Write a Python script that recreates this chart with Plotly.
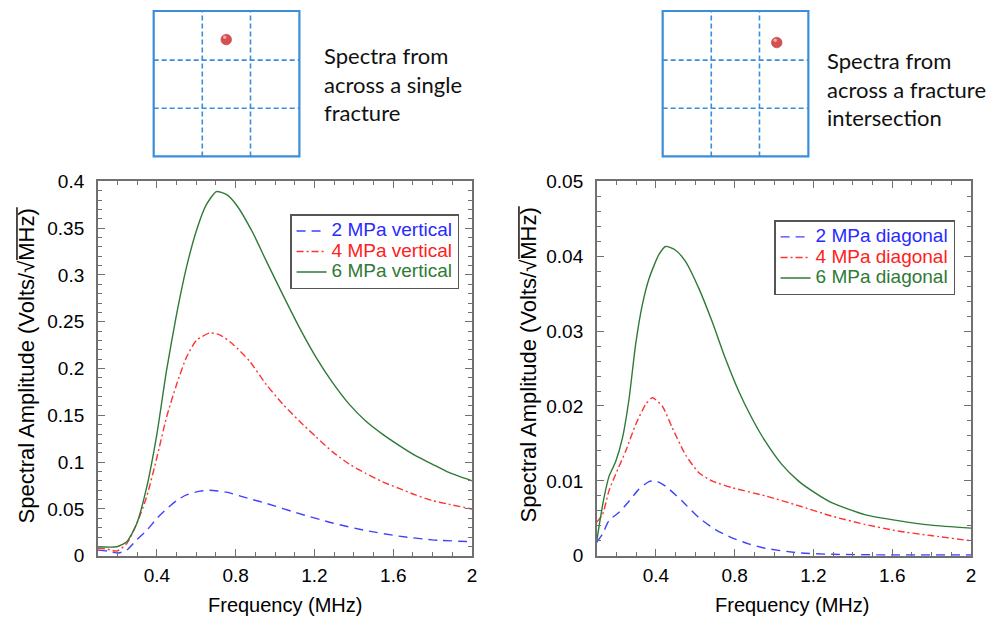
import plotly.graph_objects as go

# ---------------- data ----------------
freq_v_green = [0.10, 0.196, 0.247, 0.297, 0.348, 0.40, 0.449, 0.50, 0.55, 0.60, 0.651, 0.702, 0.752, 0.803, 0.887, 0.955, 1.039, 1.123, 1.208, 1.292, 1.376, 1.46, 1.545, 1.629, 1.713, 1.797, 1.882, 2.0]
amp_v6 = [0.0096, 0.0096, 0.015, 0.034, 0.073, 0.130, 0.198, 0.258, 0.308, 0.347, 0.375, 0.389, 0.386, 0.375, 0.345, 0.315, 0.279, 0.244, 0.212, 0.185, 0.162, 0.144, 0.130, 0.118, 0.107, 0.098, 0.089, 0.080]

freq_v_red = [0.10, 0.15, 0.196, 0.247, 0.297, 0.348, 0.40, 0.449, 0.50, 0.55, 0.60, 0.668, 0.719, 0.786, 0.87, 0.955, 1.039, 1.123, 1.208, 1.292, 1.376, 1.46, 1.545, 1.629, 1.713, 1.797, 1.882, 2.0]
amp_v4 = [0.008, 0.007, 0.005, 0.013, 0.034, 0.063, 0.105, 0.148, 0.183, 0.212, 0.230, 0.238, 0.236, 0.226, 0.208, 0.183, 0.162, 0.144, 0.127, 0.111, 0.098, 0.088, 0.079, 0.072, 0.065, 0.059, 0.055, 0.050]

freq_v_blue = [0.10, 0.15, 0.205, 0.247, 0.297, 0.348, 0.40, 0.449, 0.50, 0.55, 0.618, 0.668, 0.752, 0.87, 0.955, 1.123, 1.292, 1.46, 1.629, 1.797, 2.0]
amp_v2 = [0.006, 0.005, 0.003, 0.006, 0.017, 0.027, 0.040, 0.050, 0.059, 0.065, 0.069, 0.070, 0.068, 0.061, 0.056, 0.045, 0.035, 0.027, 0.021, 0.017, 0.015]

freq_d_green = [0.10, 0.113, 0.137, 0.162, 0.196, 0.23, 0.264, 0.297, 0.331, 0.365, 0.415, 0.449, 0.50, 0.55, 0.618, 0.685, 0.752, 0.82, 0.887, 0.955, 1.039, 1.123, 1.208, 1.292, 1.46, 1.629, 1.797, 2.0]
amp_d6 = [0.0020, 0.0042, 0.0078, 0.0106, 0.0126, 0.0157, 0.0210, 0.0282, 0.0335, 0.0370, 0.0402, 0.0413, 0.0408, 0.0393, 0.0357, 0.0313, 0.0264, 0.0220, 0.0184, 0.0153, 0.0122, 0.0100, 0.0084, 0.0071, 0.0055, 0.0047, 0.0041, 0.0037]

freq_d_red = [0.10, 0.129, 0.162, 0.196, 0.247, 0.297, 0.348, 0.382, 0.432, 0.483, 0.55, 0.618, 0.685, 0.786, 0.955, 1.123, 1.292, 1.46, 1.629, 1.797, 2.0]
amp_d4 = [0.0045, 0.0055, 0.0087, 0.0109, 0.0140, 0.0175, 0.0202, 0.0211, 0.0200, 0.0171, 0.0135, 0.0111, 0.0100, 0.0091, 0.0080, 0.0067, 0.0053, 0.0042, 0.0033, 0.0027, 0.0020]

freq_d_blue = [0.10, 0.129, 0.162, 0.213, 0.264, 0.314, 0.365, 0.398, 0.449, 0.533, 0.618, 0.702, 0.786, 0.87, 0.955, 1.123, 1.292, 1.629, 2.0]
amp_d2 = [0.0018, 0.0029, 0.0047, 0.0058, 0.0073, 0.0089, 0.0099, 0.0100, 0.0093, 0.0073, 0.0051, 0.0035, 0.0024, 0.0016, 0.0010, 0.0004, 0.0002, 0.0001, 0.0001]

x_tickvals = [0.4, 0.8, 1.2, 1.6, 2.0]
x_ticktext = ["0.4", "0.8", "1.2", "1.6", "2"]
y1_tickvals = [0, 0.05, 0.1, 0.15, 0.2, 0.25, 0.3, 0.35, 0.4]
y1_ticktext = ["0", "0.05", "0.1", "0.15", "0.2", "0.25", "0.3", "0.35", "0.4"]
y2_tickvals = [0, 0.01, 0.02, 0.03, 0.04, 0.05]
y2_ticktext = ["0", "0.01", "0.02", "0.03", "0.04", "0.05"]

names_v = ["2 MPa vertical", "4 MPa vertical", "6 MPa vertical"]
names_d = ["2 MPa diagonal", "4 MPa diagonal", "6 MPa diagonal"]

BLUE, RED, GREEN = "#4040ff", "#ff3333", "#2f7a36"
BLUE_T, RED_T, GREEN_T = "#2a2aff", "#ff2020", "#2e7a36"

# pixel -> paper helpers (compensating the page offset seen in the renderer)
def X(p):
    return p / 997.0

def Y(p):
    return 1 - ((p - 8) / 0.97) / 619.0

fig = go.Figure()

def add(x, y, name, color, tcolor, dash, xa, ya, leg):
    fig.add_trace(go.Scatter(
        x=x, y=y, mode="lines", line=dict(color=color, width=1.4, dash=dash, shape="spline", smoothing=0.6),
        name=f"<span style='color:{tcolor};font-size:19px'>{name}</span>", xaxis=xa, yaxis=ya, legend=leg))

add(freq_v_blue, amp_v2, names_v[0], BLUE, BLUE_T, "9px,6px", "x", "y", "legend")
add(freq_v_red, amp_v4, names_v[1], RED, RED_T, "7px,3px,2px,3px", "x", "y", "legend")
add(freq_v_green, amp_v6, names_v[2], GREEN, GREEN_T, "solid", "x", "y", "legend")
add(freq_d_blue, amp_d2, names_d[0], BLUE, BLUE_T, "9px,6px", "x2", "y2", "legend2")
add(freq_d_red, amp_d4, names_d[1], RED, RED_T, "7px,3px,2px,3px", "x2", "y2", "legend2")
add(freq_d_green, amp_d6, names_d[2], GREEN, GREEN_T, "solid", "x2", "y2", "legend2")

AX = "#707070"
tickfont = dict(family="Liberation Sans, Arial, sans-serif", size=19, color="#000")

def xaxis(domain, anchor):
    return dict(domain=domain, anchor=anchor, range=[0.1, 2.0], tickmode="array", tickvals=x_tickvals,
                ticktext=x_ticktext, ticks="inside", ticklen=7, tickwidth=1.3, tickcolor=AX,
                showline=True, linecolor=AX, linewidth=1.5, mirror="ticks", showgrid=False, zeroline=False,
                tickfont=tickfont, ticklabelstandoff=2,
                minor=dict(tickmode="linear", tick0=0, dtick=0.1, ticks="inside", ticklen=4, tickcolor=AX, tickwidth=1.1, showgrid=False))

def yaxis(domain, anchor, rng, vals, text, mdt):
    return dict(domain=domain, anchor=anchor, range=rng, tickmode="array", tickvals=vals, ticktext=text,
                ticks="inside", ticklen=7, tickwidth=1.3, tickcolor=AX,
                showline=True, linecolor=AX, linewidth=1.5, mirror="ticks", showgrid=False, zeroline=False,
                tickfont=tickfont, ticklabelstandoff=8,
                minor=dict(tickmode="linear", tick0=0, dtick=mdt, ticks="inside", ticklen=4, tickcolor=AX, tickwidth=1.1, showgrid=False))

ydom = [Y(556), Y(180)]
legfont = dict(family="Liberation Sans, Arial, sans-serif", size=13.5)
fig.update_layout(
    width=1000, height=619, margin=dict(l=0, r=0, t=0, b=0),
    paper_bgcolor="white", plot_bgcolor="white", showlegend=True,
    xaxis=xaxis([X(98), X(473)], "y"),
    yaxis=yaxis(ydom, "x", [0, 0.4], y1_tickvals, y1_ticktext, 0.01),
    xaxis2=xaxis([X(598), X(973)], "y2"),
    yaxis2=yaxis(ydom, "x2", [0, 0.05], y2_tickvals, y2_ticktext, 0.002),
    legend=dict(x=X(460), y=Y(213), xanchor="right", yanchor="top", bgcolor="white",
                bordercolor="#555", borderwidth=1.5, font=legfont, tracegroupgap=0, itemwidth=30),
    legend2=dict(x=X(957), y=Y(219), xanchor="right", yanchor="top", bgcolor="white",
                 bordercolor="#555", borderwidth=1.5, font=legfont, tracegroupgap=0, itemwidth=30),
)

# axis titles
tfont = dict(family="Liberation Sans, Arial, sans-serif", size=20, color="#000")
yfont = dict(family="Liberation Sans, Arial, sans-serif", size=22, color="#000")
ytitle = "Spectral Amplitude (Volts/√MHz)"
fig.add_annotation(xref="paper", yref="paper", showarrow=False, font=tfont, text="Frequency (MHz)",
                   x=X(286), y=Y(605), xanchor="center", yanchor="middle")
fig.add_annotation(xref="paper", yref="paper", showarrow=False, font=tfont, text="Frequency (MHz)",
                   x=X(794), y=Y(605), xanchor="center", yanchor="middle")
fig.add_annotation(xref="paper", yref="paper", showarrow=False, font=yfont, text=ytitle,
                   x=X(27), y=Y(365), xanchor="center", yanchor="middle", textangle=-90)
fig.add_annotation(xref="paper", yref="paper", showarrow=False, font=yfont, text=ytitle,
                   x=X(530), y=Y(364), xanchor="center", yanchor="middle", textangle=-90)

dfont = dict(family="Lato, Open Sans, sans-serif", size=22, color="#111")
fig.add_annotation(xref="paper", yref="paper", showarrow=False, font=dfont, align="left",
                   text="Spectra from<br>across a single<br>fracture", x=X(323), y=Y(82), xanchor="left", yanchor="middle")
fig.add_annotation(xref="paper", yref="paper", showarrow=False, font=dfont, align="left",
                   text="Spectra from<br>across a fracture<br>intersection", x=X(827), y=Y(87), xanchor="left", yanchor="middle")

# vinculum of the square-root sign over "MHz"
for ox, oy0, oy1 in ((17, 206, 259), (520, 205, 258)):
    fig.add_shape(type="line", xref="paper", yref="paper", x0=X(ox), x1=X(ox), y0=Y(oy1), y1=Y(oy0),
                  line=dict(color="#000", width=1.4))

# fracture diagrams
SQ = "#3b8ed8"
def diagram(x0, ball):
    x1 = x0 + 146
    fig.add_shape(type="rect", xref="paper", yref="paper", x0=X(x0), x1=X(x1), y0=Y(155), y1=Y(9),
                  line=dict(color=SQ, width=2.2))
    for vx in (x0 + 48.7, x0 + 97):
        fig.add_shape(type="line", xref="paper", yref="paper", x0=X(vx), x1=X(vx), y0=Y(155), y1=Y(9),
                      line=dict(color=SQ, width=1.6, dash="5px,3px"))
    for hy in (58.3, 106.7):
        fig.add_shape(type="line", xref="paper", yref="paper", x0=X(x0), x1=X(x1), y0=Y(hy), y1=Y(hy),
                      line=dict(color=SQ, width=1.6, dash="5px,3px"))
    bx, by = ball
    fig.add_shape(type="circle", xref="paper", yref="paper", x0=X(bx - 5.3), x1=X(bx + 5.3), y0=Y(by + 5.3), y1=Y(by - 5.3),
                  fillcolor="#d65050", line=dict(color="#b84040", width=0.6))
    fig.add_shape(type="circle", xref="paper", yref="paper", x0=X(bx - 3.2), x1=X(bx + 0.2), y0=Y(by - 0.6), y1=Y(by - 4.0),
                  fillcolor="#f2a8a8", line=dict(width=0))

diagram(154, (226.7, 37.7))
diagram(664, (778.3, 40.7))

fig.write_html("out.html")
